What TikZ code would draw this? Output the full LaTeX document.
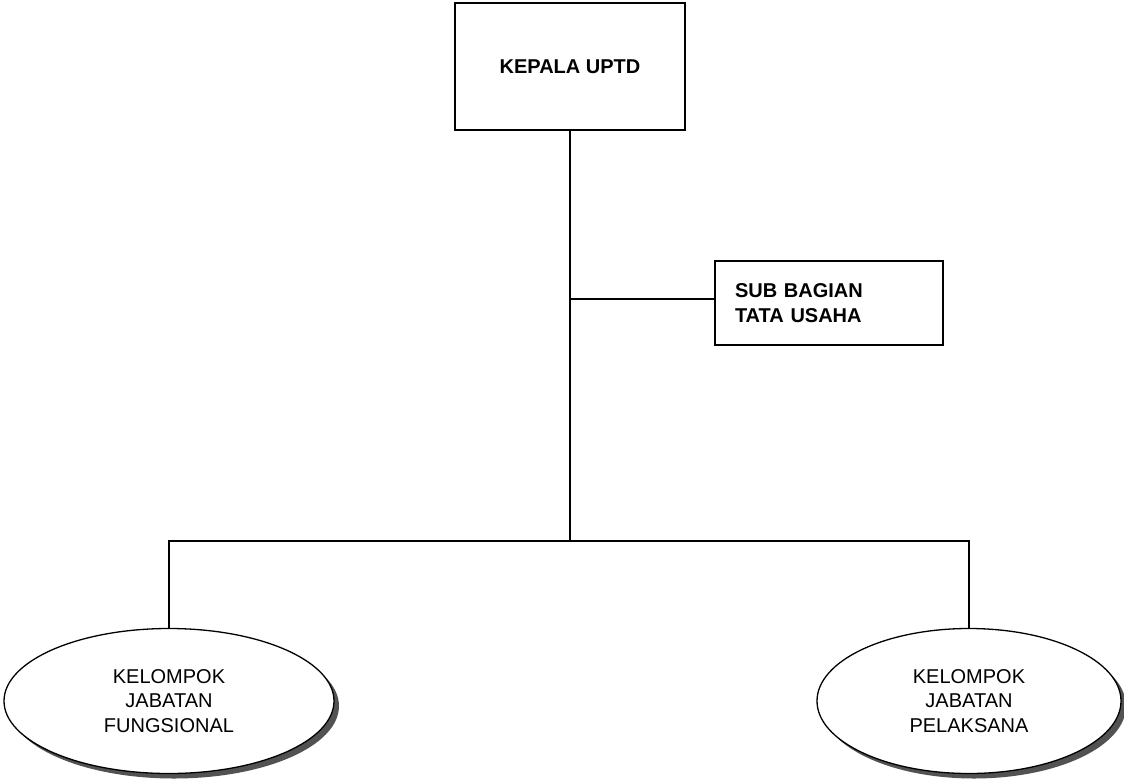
\documentclass[tikz,border=0pt]{standalone}
\usepackage{fontspec}
\setmainfont{Liberation Sans}
\usetikzlibrary{shapes.geometric,shadows}
\begin{document}
\begin{tikzpicture}[x=1pt,y=-1pt,
  line width=1.3pt,
  every node/.style={font=\fontsize{20}{24.5}\selectfont},
  boxnode/.style={draw,rectangle,line width=1.3pt,inner sep=0pt},
  ovalnode/.style={draw,ellipse,fill=white,line width=1.3pt,align=center,inner sep=0pt,
    drop shadow={shadow xshift=5pt,shadow yshift=-5pt,fill=black!75,opacity=0.9}},
  conn/.style={draw,line width=1.3pt}]
\useasboundingbox (0,0) rectangle (1124,782);
\fill[white] (0,0) rectangle (1124,782);
\node[boxnode,minimum width=230pt,minimum height=127pt,font=\fontsize{20}{24.5}\selectfont\bfseries] (boss) at (570,66.5) {KEPALA UPTD};
\node[boxnode,minimum width=228pt,minimum height=84pt,text width=188pt,inner xsep=20pt,align=left,font=\fontsize{20}{25}\selectfont\bfseries] (sub) at (829,303) {SUB BAGIAN\\TATA USAHA};
\node[ovalnode,minimum width=330pt,minimum height=145pt] (fung) at (169,701) {KELOMPOK\\JABATAN\\FUNGSIONAL};
\node[ovalnode,minimum width=304pt,minimum height=145pt] (pel) at (969,701) {KELOMPOK\\JABATAN\\PELAKSANA};
\coordinate (mid) at (570,299);
\coordinate (junc) at (570,541);
\draw[conn] (boss.south) -- (junc);
\draw[conn] (mid) -- (sub.west |- mid);
\draw[conn] (fung.north) |- (junc) -| (pel.north);
\end{tikzpicture}
\end{document}
